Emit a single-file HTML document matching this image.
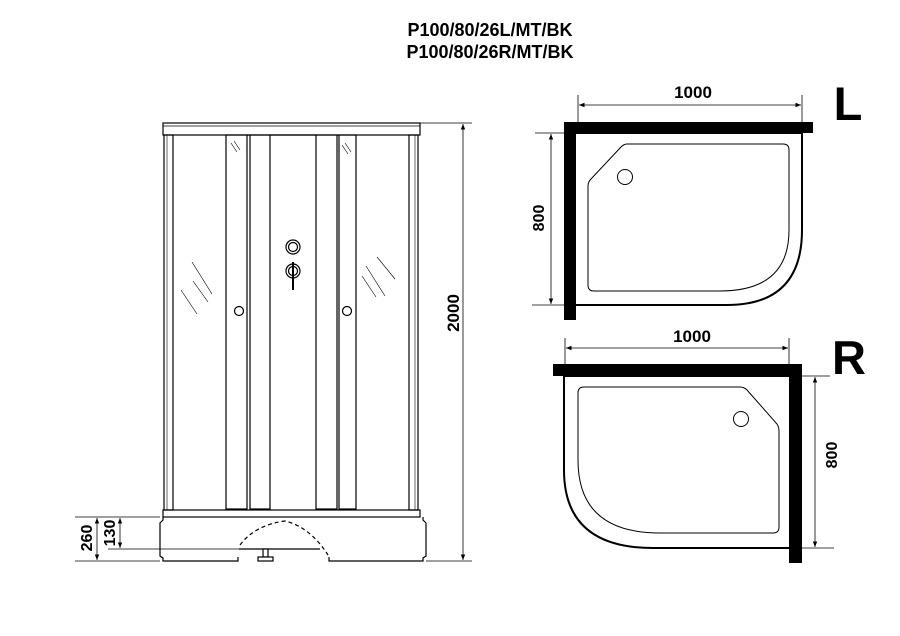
<!DOCTYPE html>
<html><head><meta charset="utf-8"><style>
html,body{margin:0;padding:0;background:#fff;}
svg{display:block}
text{font-family:"Liberation Sans",Arial,sans-serif;font-weight:bold;fill:#000}
</style></head><body>
<svg width="900" height="636" viewBox="0 0 900 636" xmlns="http://www.w3.org/2000/svg">
<defs>
<marker id="a" viewBox="0 0 10 10" refX="10" refY="5" markerWidth="7" markerHeight="7" orient="auto-start-reverse"><path d="M0,1 L10,5 L0,9 Z" fill="#000"/></marker>
</defs>
<text x="490" y="36" font-size="18" text-anchor="middle">P100/80/26L/MT/BK</text>
<text x="490" y="58" font-size="18" text-anchor="middle">P100/80/26R/MT/BK</text>

<!-- Front view -->
<g fill="none" stroke="#000" stroke-width="1.2">
<rect x="163" y="123" width="257" height="12"/>
<line x1="163" y1="126" x2="420" y2="126" stroke-width="0.8"/>
<rect x="164" y="135" width="9" height="375"/>
<line x1="167" y1="135" x2="167" y2="510" stroke-width="0.6"/>
<rect x="409" y="135" width="9" height="375"/>
<line x1="415" y1="135" x2="415" y2="510" stroke-width="0.6"/>
<rect x="226" y="135" width="21" height="374"/>
<rect x="250" y="135" width="20" height="374"/>
<rect x="316" y="135" width="21" height="374"/>
<rect x="339" y="135" width="17" height="374"/>
<line x1="247" y1="135" x2="250" y2="135"/>
<line x1="270" y1="135" x2="316" y2="135"/>
<rect x="163" y="510" width="257" height="7"/>
<path d="M163,517 L163,520 L160,523 L160,556 L163,558 L163,561 L238,561 L238,557"/>
<path d="M329,557 L329,561 L423,561 L423,558 L426,556 L426,523 L423,520 L423,517"/>
<line x1="239" y1="549" x2="320" y2="549"/>
<path d="M240,545 Q255,525 285,521 Q310,527 328,555" stroke-dasharray="4,3"/>
<circle cx="239" cy="311" r="4.5"/>
<circle cx="347" cy="311" r="4.5"/>
<circle cx="293" cy="247" r="7"/>
<circle cx="293" cy="247" r="4.5"/>
<circle cx="293" cy="271" r="7"/>
<circle cx="293" cy="271" r="4.5"/>
<line x1="293" y1="262" x2="293" y2="290" stroke-width="2"/>
<g stroke-width="0.6">
<line x1="181" y1="290" x2="197" y2="314"/><line x1="192" y1="262" x2="212" y2="294"/><line x1="193" y1="281" x2="208" y2="302"/>
<line x1="362" y1="276" x2="376" y2="297"/><line x1="366" y1="266" x2="385" y2="296"/><line x1="377" y1="257" x2="395" y2="279"/>
<line x1="231" y1="143" x2="237" y2="152"/><line x1="234" y1="141" x2="240" y2="150"/>
<line x1="342" y1="145" x2="348" y2="154"/><line x1="345" y1="143" x2="351" y2="152"/>
</g>
<rect x="263" y="549" width="5" height="8" fill="#fff"/>
<rect x="258" y="557" width="15" height="4" fill="#fff"/>
</g>
<g stroke="#000" stroke-width="0.8" fill="none">
<line x1="420" y1="123" x2="472" y2="123"/>
<line x1="426" y1="561" x2="472" y2="561"/>
<line x1="463" y1="124" x2="463" y2="560" marker-start="url(#a)" marker-end="url(#a)"/>
<line x1="75" y1="517" x2="160" y2="517"/>
<line x1="108" y1="549" x2="239" y2="549"/>
<line x1="75" y1="561" x2="160" y2="561"/>
<line x1="97" y1="518" x2="97" y2="560" marker-start="url(#a)" marker-end="url(#a)"/>
<line x1="120" y1="518" x2="120" y2="548" marker-start="url(#a)" marker-end="url(#a)"/>
</g>
<text transform="translate(459,313) rotate(-90)" font-size="17" text-anchor="middle">2000</text>
<text transform="translate(92,538) rotate(-90)" font-size="16" text-anchor="middle">260</text>
<text transform="translate(115,533) rotate(-90)" font-size="16" text-anchor="middle">130</text>

<!-- L plan -->
<rect x="564" y="122" width="249" height="11" fill="#000"/>
<rect x="564" y="122" width="12" height="198" fill="#000"/>
<g fill="none" stroke="#000">
<path d="M576,133 L802,133 L802,230 Q802,305 727,305 L576,305" stroke-width="2"/>
<path d="M627,144 L783,144 Q789,144 789,150 L789,230 Q789,291 720,291 L594,291 Q588,291 588,285 L588,186 Q588,182 591,179 L621,147 Q624,144 627,144 Z" stroke-width="1"/>
<circle cx="625" cy="177" r="7.5" stroke-width="1"/>
<g stroke-width="0.8">
<line x1="578" y1="95" x2="578" y2="122"/><line x1="802" y1="95" x2="802" y2="133"/>
<line x1="579" y1="105" x2="801" y2="105" marker-start="url(#a)" marker-end="url(#a)"/>
<line x1="535" y1="133" x2="564" y2="133"/><line x1="532" y1="305" x2="564" y2="305"/>
<line x1="551" y1="134" x2="551" y2="304" marker-start="url(#a)" marker-end="url(#a)"/>
</g>
</g>
<text x="693" y="98" font-size="17" text-anchor="middle">1000</text>
<text transform="translate(544,218) rotate(-90)" font-size="16" text-anchor="middle">800</text>
<text x="848" y="120" font-size="47" text-anchor="middle">L</text>

<!-- R plan -->
<rect x="553" y="364" width="249" height="12" fill="#000"/>
<rect x="789" y="364" width="13" height="199" fill="#000"/>
<g fill="none" stroke="#000">
<path d="M789,376 L564,376 L564,470 Q564,548 653,548 L789,548" stroke-width="2"/>
<path d="M584,387 L740,387 Q744,387 747,390 L777,424 Q779,427 779,431 L779,527 Q779,533 773,533 L660,533 Q578,533 578,460 L578,393 Q578,387 584,387 Z" stroke-width="1"/>
<circle cx="741" cy="419" r="7.5" stroke-width="1"/>
<g stroke-width="0.8">
<line x1="565" y1="338" x2="565" y2="364"/><line x1="789" y1="338" x2="789" y2="364"/>
<line x1="566" y1="348" x2="788" y2="348" marker-start="url(#a)" marker-end="url(#a)"/>
<line x1="802" y1="376" x2="830" y2="376"/><line x1="802" y1="548" x2="834" y2="548"/>
<line x1="815" y1="377" x2="815" y2="547" marker-start="url(#a)" marker-end="url(#a)"/>
</g>
</g>
<text x="692" y="342" font-size="17" text-anchor="middle">1000</text>
<text transform="translate(837,455) rotate(-90)" font-size="16" text-anchor="middle">800</text>
<text x="849" y="374" font-size="47" text-anchor="middle">R</text>
</svg>
</body></html>
